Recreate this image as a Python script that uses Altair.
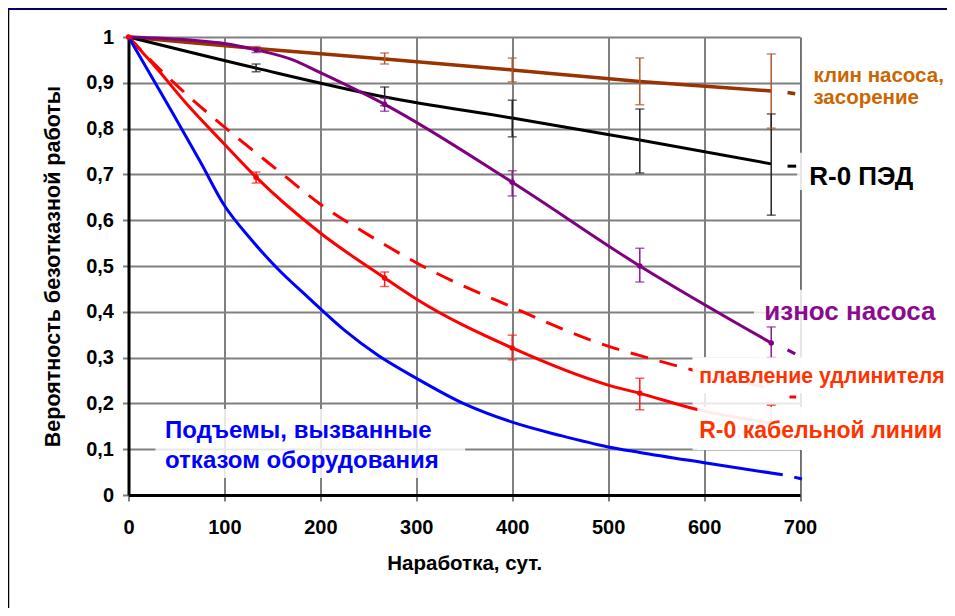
import altair as alt
import pandas as pd

FONT = "Liberation Sans"

# ---- data ----
brown_x = [0, 133, 267, 400, 533, 670]
brown_y = [1.0, 0.975, 0.952, 0.928, 0.903, 0.882]
black_x = [0, 133, 267, 400, 533, 670]
black_y = [1.0, 0.932, 0.869, 0.823, 0.775, 0.723]
purple_x = [0, 67, 100, 133, 170, 200, 267, 400, 533, 670]
purple_y = [1.0, 0.993, 0.986, 0.972, 0.951, 0.922, 0.853, 0.683, 0.50, 0.332]
red_x = [0, 30, 61, 100, 133, 200, 267, 300, 400, 500, 533, 594, 670]
red_y = [1.0, 0.93, 0.853, 0.766, 0.694, 0.572, 0.474, 0.428, 0.321, 0.24, 0.222, 0.186, 0.157]
reddash_x = [0, 20, 50, 106, 155, 200, 250, 301, 400, 500, 544, 588, 670]
reddash_y = [1.0, 0.956, 0.895, 0.793, 0.71, 0.635, 0.568, 0.506, 0.41, 0.325, 0.298, 0.273, 0.232]
blue_x = [0, 22, 46, 75, 100, 127, 155, 188, 225, 260, 300, 349, 400, 450, 500, 533, 602, 682]
blue_y = [1.0, 0.921, 0.834, 0.727, 0.632, 0.56, 0.495, 0.43, 0.36, 0.305, 0.255, 0.2, 0.159, 0.13, 0.105, 0.093, 0.07, 0.044]

# short end pieces near 700
tail_brown = ([687, 695], [0.879, 0.876])
tail_black = ([687, 696], [0.718, 0.718])
tail_purple = ([687, 695], [0.317, 0.308])
tail_reddash = ([689, 696], [0.214, 0.214])
tail_blue = ([694, 702], [0.039, 0.035])

# error bars
eb_x = [133, 267, 400, 533, 670]
brown_lo = [0.971, 0.941, 0.902, 0.852, 0.801]
brown_hi = [0.979, 0.965, 0.954, 0.954, 0.963]
black_lo = [0.924, 0.85, 0.782, 0.703, 0.611]
black_hi = [0.941, 0.891, 0.862, 0.843, 0.832]
purple_lo = [0.966, 0.838, 0.653, 0.465, 0.30]
purple_hi = [0.976, 0.866, 0.708, 0.539, 0.367]
red_lo = [0.681, 0.455, 0.295, 0.186, 0.12]
red_hi = [0.705, 0.487, 0.349, 0.255, 0.196]
purple_c = [0.972, 0.853, 0.683, 0.50, 0.332]
red_c = [0.694, 0.474, 0.321, 0.222, 0.157]

x_ticks = [0, 100, 200, 300, 400, 500, 600, 700]
y_ticks = [0, 0.1, 0.2, 0.3, 0.4, 0.5, 0.6, 0.7, 0.8, 0.9, 1.0]

# labels
lab_text = ["клин насоса,", "засорение", "R-0 ПЭД", "износ насоса",
            "плавление удлинителя", "R-0 кабельной линии",
            "Подъемы, вызванные", "отказом оборудования"]
lab_x = [714, 714, 709.6, 662.7, 594.9, 594.9, 38.1, 38.1]
lab_y = [0.902, 0.854, 0.677, 0.382, 0.245, 0.124, 0.124, 0.059]
lab_size = [20.5, 20.5, 26, 26, 21.3, 23, 24, 24]
lab_color = ["#CC6600", "#CC6600", "#000000", "#8B0A8F",
             "#FF3300", "#FF3300", "#0000FF", "#0000FF"]

# white label boxes (below series / above series)
boxb_x1 = [28, 652, 697, 588]
boxb_x2 = [351, 860, 850, 860]
boxb_y1 = [0.037, 0.30, 0.666, 0.098]
boxb_y2 = [0.188, 0.448, 0.747, 0.30]
boxa_x1 = [588, 593]
boxa_x2 = [860, 860]
boxa_y1 = [0.222, 0.098]
boxa_y2 = [0.301, 0.192]

# ---- chart ----
XS = alt.Scale(domain=[0, 700], nice=False, zero=False)
YS = alt.Scale(domain=[0, 1], nice=False, zero=False)

AX = alt.Axis(values=x_ticks, grid=True, gridColor="black", gridWidth=1,
              domainColor="black", domainWidth=3, tickColor="black", tickSize=6,
              tickWidth=1, labelFont=FONT, labelFontSize=20, labelFontWeight="bold",
              labelColor="black", labelPadding=16, labelFlush=False, labelOverlap=False,
              title="Наработка, сут.", titleFont=FONT, titleFontSize=20.5,
              titleFontWeight="bold", titleColor="black", titleY=74,
              titleBaseline="alphabetic")
AY = alt.Axis(values=y_ticks, grid=True, gridColor="#808080", gridWidth=2,
              domainColor="black", domainWidth=3, tickColor="#808080", tickSize=6,
              tickWidth=2, labelFont=FONT, labelFontSize=20, labelFontWeight="bold",
              labelColor="black", labelPadding=9, labelFlush=False, labelOverlap=False,
              labelExpr="datum.value == 0 ? '0' : datum.value == 1 ? '1' : replace(format(datum.value, '.1f'), '.', ',')",
              title="Вероятность безотказной работы", titleFont=FONT, titleFontSize=21.5,
              titleFontWeight="bold", titleColor="black", titleX=-69,
              titleBaseline="alphabetic")


def X(f):
    return alt.X(f"{f}:Q", scale=XS, axis=AX)


def Y(f):
    return alt.Y(f"{f}:Q", scale=YS, axis=AY)


def line(xs, ys, color, width=3, dash=None):
    kw = dict(color=color, strokeWidth=width, interpolate="monotone")
    if dash:
        kw["strokeDash"] = dash
    return alt.Chart(pd.DataFrame({"x": xs, "y": ys})).mark_line(**kw).encode(x=X("x"), y=Y("y"))


layers = []

boxes_below = pd.DataFrame({"x1": boxb_x1, "x2": boxb_x2, "y1": boxb_y1, "y2": boxb_y2})
layers.append(alt.Chart(boxes_below).mark_rect(color="white", opacity=0.82).encode(
    x=X("x1"), x2="x2", y=Y("y1"), y2="y2"))

layers += [
    line(brown_x, brown_y, "#993300", 3.5),
    line(black_x, black_y, "#000000", 3),
    line(purple_x, purple_y, "#800080", 3),
    line(reddash_x, reddash_y, "#FF0000", 3, [18, 12]),
    line(red_x, red_y, "#FF0000", 3),
    line(blue_x, blue_y, "#0000FF", 3),
    line(*tail_brown, "#993300", 3.5),
    line(*tail_black, "#000000", 3),
    line(*tail_purple, "#800080", 3),
    line(*tail_reddash, "#FF0000", 3),
    line(*tail_blue, "#0000FF", 3),
]

eb_rows = []
for lo, hi, col in [(brown_lo, brown_hi, "#B0562A"), (black_lo, black_hi, "#222222"),
                    (purple_lo, purple_hi, "#8B1A94"), (red_lo, red_hi, "#FF1A1A")]:
    for xv, l, h in zip(eb_x, lo, hi):
        eb_rows.append({"x": xv, "lo": l, "hi": h, "color": col})
eb = pd.DataFrame(eb_rows)
layers.append(alt.Chart(eb).mark_rule(strokeWidth=1.5).encode(
    x=X("x"), y=Y("lo"), y2="hi", color=alt.Color("color:N", scale=None)))
layers.append(alt.Chart(eb).mark_tick(orient="horizontal", size=9, thickness=1.5).encode(
    x=X("x"), y=Y("lo"), color=alt.Color("color:N", scale=None)))
layers.append(alt.Chart(eb).mark_tick(orient="horizontal", size=9, thickness=1.5).encode(
    x=X("x"), y=Y("hi"), color=alt.Color("color:N", scale=None)))

pts = pd.DataFrame({
    "x": eb_x + eb_x + [0],
    "y": purple_c + red_c + [1.0],
    "color": ["#800080"] * 5 + ["#FF0000"] * 5 + ["#FF0000"],
})
layers.append(alt.Chart(pts).mark_circle(size=30, opacity=1).encode(
    x=X("x"), y=Y("y"), color=alt.Color("color:N", scale=None)))

boxes_above = pd.DataFrame({"x1": boxa_x1, "x2": boxa_x2, "y1": boxa_y1, "y2": boxa_y2})
layers.append(alt.Chart(boxes_above).mark_rect(color="white", opacity=0.92).encode(
    x=X("x1"), x2="x2", y=Y("y1"), y2="y2"))

labels = pd.DataFrame({"text": lab_text, "x": lab_x, "y": lab_y,
                       "size": lab_size, "color": lab_color})
layers.append(alt.Chart(labels).mark_text(align="left", baseline="alphabetic",
                                          font=FONT, fontWeight="bold").encode(
    x=X("x"), y=Y("y"), text="text:N",
    size=alt.Size("size:Q", scale=None), color=alt.Color("color:N", scale=None)))

# slide frame lines
one = pd.DataFrame({"a": [0]})
layers.append(alt.Chart(one).mark_rule(color="black", strokeWidth=1.5).encode(
    x=alt.value(-120), y=alt.value(-29), y2=alt.value(571)))
layers.append(alt.Chart(one).mark_rule(color="#000066", strokeWidth=2).encode(
    x=alt.value(-120.5), x2=alt.value(818.5), y=alt.value(-28)))

chart = alt.layer(*layers).properties(
    width=671.5, height=458,
    padding={"left": 120.5, "top": 29, "right": 147, "bottom": 113},
    autosize=alt.AutoSizeParams(type="none"),
).configure_view(stroke=None).configure(background="white")

chart.save("out.html", embed_options={"renderer": "svg", "actions": False})
